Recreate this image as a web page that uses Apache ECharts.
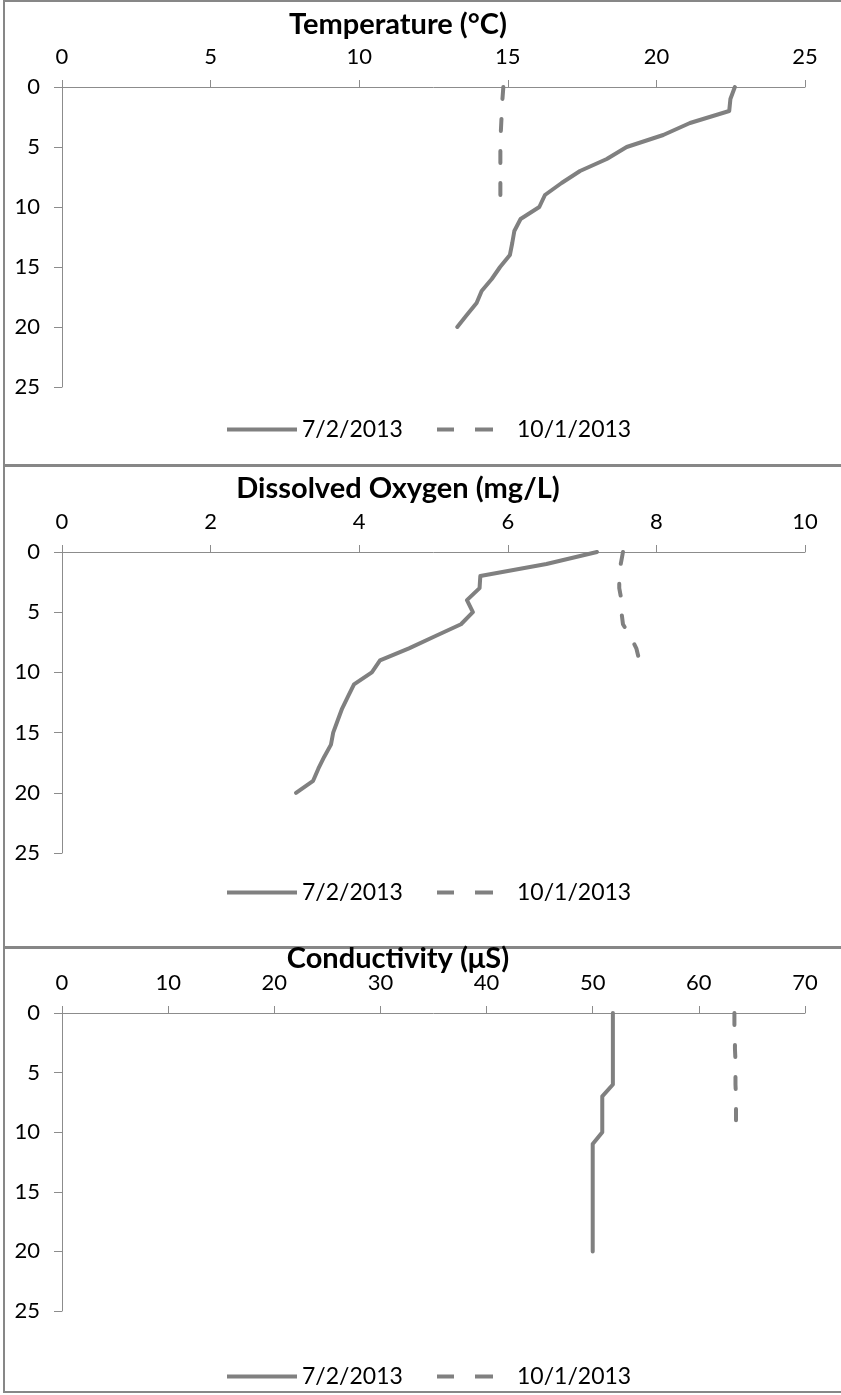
<!DOCTYPE html>
<html><head><meta charset="utf-8">
<script src="https://cdn.jsdelivr.net/npm/echarts@6/dist/echarts.min.js"></script>
<style>html,body{margin:0;padding:0;background:#fff}#c{width:841px;height:1395px}</style>
</head><body><div id="c"></div><script>
// ---- data ----
const depthJul = [0,1,2,3,4,5,6,7,8,9,10,11,12,13,14,15,16,17,18,19,20];
const depthOct = [0,1,2,3,4,5,6,7,8,9];
const tempJul = [22.64,22.49,22.45,21.13,20.23,19.0,18.33,17.43,16.81,16.25,16.06,15.43,15.22,15.15,15.07,14.74,14.46,14.12,13.95,13.62,13.3];
const tempOct = [14.85,14.82,14.8,14.78,14.76,14.75,14.75,14.75,14.75,14.75];
const doJul = [7.2,6.52,5.63,5.62,5.45,5.53,5.37,5.02,4.67,4.28,4.17,3.93,3.85,3.77,3.71,3.65,3.62,3.53,3.45,3.38,3.15];
const doOct = [7.55,7.52,7.5,7.5,7.53,7.53,7.55,7.65,7.73,7.77];
const condJul = [51.9,51.9,51.9,51.9,51.9,51.9,51.9,50.9,50.9,50.9,50.9,50,50,50,50,50,50,50,50,50,50];
const condOct = [63.35,63.35,63.4,63.4,63.45,63.45,63.45,63.5,63.5,63.5];
const panelTitles = ['Temperature (°C)', 'Dissolved Oxygen (mg/L)', 'Conductivity (μS)'];
const seriesNames = ['7/2/2013', '10/1/2013'];
const xMax = [25, 10, 70];
const xInterval = [5, 2, 10];
const depthMax = 25, depthInterval = 5;

// ---- layout ----
const FONT = 'Lato';
const gridTops = [87, 552, 1013];
const gridHeights = [300, 301, 298];
const titleY = [24, 488, 958];
const legendY = [430, 893, 1377];
const panels = [[1, 464], [466, 481], [948, 444]];
const GRAY = '#808080', AXIS = '#8c8c8c';
const ICON_SOLID = 'path://M0,0h70v4h-70z';
const ICON_DASH = 'path://M0,0h17v4h-17zM38,0h18v4h-18z';

const julVals = [tempJul, doJul, condJul];
const octVals = [tempOct, doOct, condOct];
const zip = (v, d) => v.map((x, i) => [x, d[i]]);

const option = {
  backgroundColor: '#fff',
  animation: false,
  title: panelTitles.map((t, i) => ({
    text: t, left: 398, top: titleY[i] - 14, textAlign: 'center', padding: 0,
    textStyle: { fontFamily: FONT, fontWeight: 'bold', fontSize: 29, color: '#000' }
  })),
  grid: gridTops.map((t, i) => ({ left: 62, top: t, width: 743, height: gridHeights[i] })),
  xAxis: xMax.map((m, i) => ({
    type: 'value', gridIndex: i, position: 'top', min: 0, max: m, interval: xInterval[i],
    axisLine: { show: true, lineStyle: { color: AXIS, width: 1 } },
    axisTick: { show: true, length: 7, lineStyle: { color: AXIS } },
    splitLine: { show: false },
    axisLabel: { margin: 19, fontFamily: FONT, fontSize: 22, color: '#000' }
  })),
  yAxis: xMax.map((m, i) => ({
    type: 'value', gridIndex: i, inverse: true, min: 0, max: depthMax, interval: depthInterval,
    axisLine: { show: true, onZero: false, lineStyle: { color: AXIS, width: 1 } },
    axisTick: { show: true, length: 8, lineStyle: { color: AXIS } },
    splitLine: { show: false },
    axisLabel: { margin: 22, fontFamily: FONT, fontSize: 22, color: '#000' }
  })),
  legend: [],
  series: [],
  graphic: panels.map(p => ({
    type: 'rect', silent: true, z: -1,
    shape: { x: 4, y: p[0], width: 860, height: p[1] },
    style: { fill: 'none', stroke: '#878787', lineWidth: 2 }
  }))
};

for (let i = 0; i < 3; i++) {
  option.series.push({
    name: seriesNames[0], type: 'line', xAxisIndex: i, yAxisIndex: i,
    data: zip(julVals[i], depthJul), symbol: 'none', showSymbol: false,
    lineStyle: { color: GRAY, width: 4, join: 'round', cap: 'round' }, itemStyle: { color: GRAY }
  });
  option.series.push({
    name: seriesNames[1], type: 'line', xAxisIndex: i, yAxisIndex: i,
    data: zip(octVals[i], depthOct), symbol: 'none', showSymbol: false,
    lineStyle: { color: GRAY, width: 4, type: [12, 20], cap: 'round', join: 'round' }, itemStyle: { color: GRAY }
  });
  option.legend.push({
    data: [{ name: seriesNames[0], icon: ICON_SOLID }], left: 227, top: legendY[i] - 12,
    itemWidth: 70, itemHeight: 4, padding: 0, selectedMode: false,
    itemStyle: { color: GRAY, borderWidth: 0 },
    textStyle: { fontFamily: FONT, fontSize: 23, color: '#000' }
  });
  option.legend.push({
    data: [{ name: seriesNames[1], icon: ICON_DASH }], left: 437, top: legendY[i] - 12,
    itemWidth: 56, itemHeight: 4, padding: 0, selectedMode: false,
    itemStyle: { color: GRAY, borderWidth: 0 },
    textStyle: { fontFamily: FONT, fontSize: 23, color: '#000', padding: [0, 0, 0, 19] }
  });
}

const chart = echarts.init(document.getElementById('c'), null, { renderer: 'canvas' });
chart.setOption(option);
</script></body></html>
